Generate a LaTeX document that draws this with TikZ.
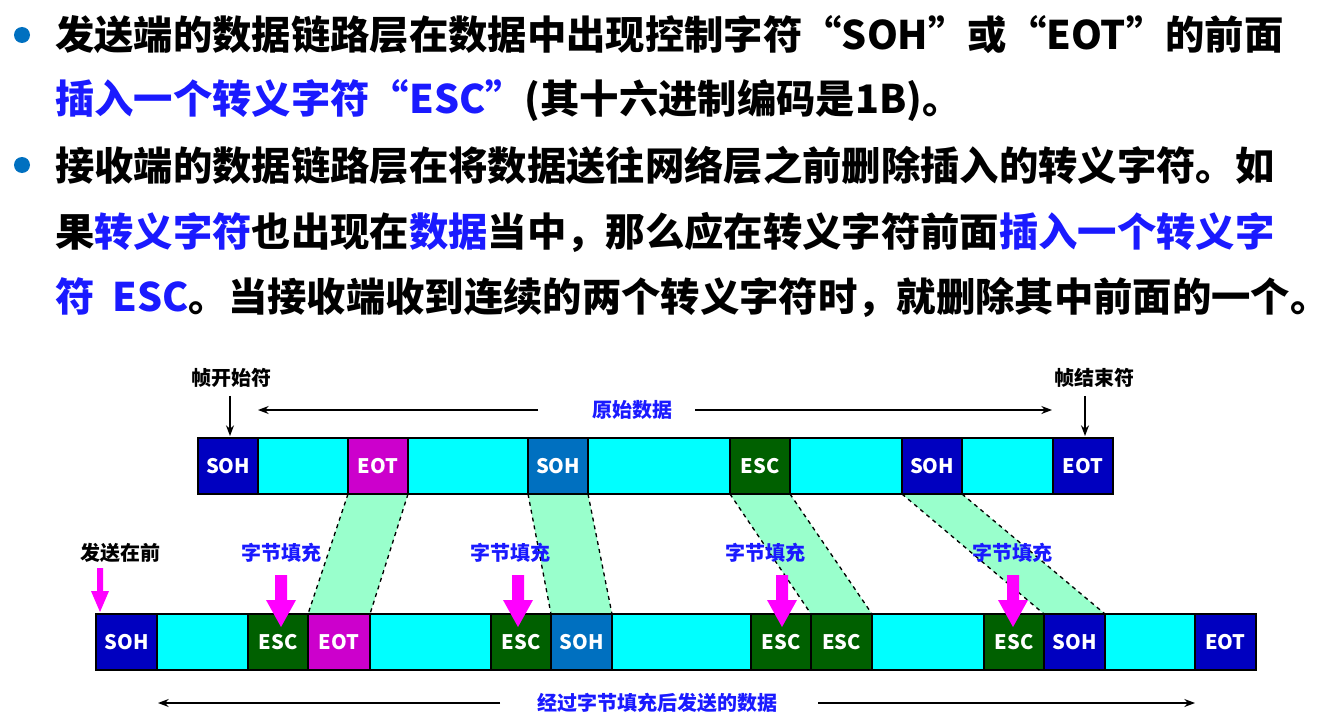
\documentclass[tikz,border=0pt]{standalone}
\usepackage{fontspec}
\setmainfont{Noto Sans CJK SC}
\usetikzlibrary{arrows.meta}
\definecolor{dblue}{HTML}{0000C0}
\definecolor{mblue}{HTML}{0070C0}
\definecolor{mag}{HTML}{CC00CC}
\definecolor{dgreen}{HTML}{006000}
\definecolor{cy}{HTML}{00FFFF}
\definecolor{mint}{HTML}{99FFCC}
\definecolor{pink}{HTML}{FF00FF}
\definecolor{tblue}{HTML}{1A1AFF}
\newcommand{\bx}[6]{\draw[line width=1.2pt,fill=#5] (#2,#4) rectangle (#3,#4+56);
  \node[celltxt] (#1) at ({(#2+#3)/2},#4+28) {#6};}
\newcommand{\fatarrow}[2]{\fill[pink] (#1-6,#2) -- (#1+6,#2) -- (#1+6,#2+25) -- (#1+15,#2+25) -- (#1,#2+52) -- (#1-15,#2+25) -- (#1-6,#2+25) -- cycle;}
\newcommand{\band}[8]{\fill[mint] (#1,#5) -- (#2,#5) -- (#4,#6) -- (#3,#6) -- cycle;
  \draw[dashed,line width=1pt] (#1,#5) -- (#3,#6); \draw[dashed,line width=1pt] (#2,#5) -- (#4,#6);}
\begin{document}
\begin{tikzpicture}[x=0.75pt,y=-0.75pt,
  celltxt/.style={text=white,font=\fontsize{15}{15}\selectfont\bfseries,inner sep=0},
  body/.style={anchor=west,font=\fontsize{29.5}{30}\selectfont\bfseries,inner sep=0},
  lab/.style={font=\fontsize{15}{16}\selectfont\bfseries,inner sep=0},
  blab/.style={lab,text=tblue},
  arr/.style={-{Stealth[length=8pt,width=6pt]},line width=1pt}]
\useasboundingbox[fill=white] (0,0) rectangle (1336,724);
% text
\fill[mblue] (22,35) circle (8);
\fill[mblue] (22,165) circle (8);
\node[body] (l1) at (55,35) {发送端的数据链路层在数据中出现控制字符“SOH”或“EOT”的前面};
\node[body] (l2) at (55,100) {\color{tblue}插入一个转义字符“ESC”\color{black}(其十六进制编码是1B)。};
\node[body] (l3) at (55,165) {接收端的数据链路层在将数据送往网络层之前删除插入的转义字符。如};
\node[body] (l4) at (55,232) {果\textcolor{tblue}{转义字符}也出现在\textcolor{tblue}{数据}当中，那么应在转义字符前面\textcolor{tblue}{插入一个转义字}};
\node[body] (l5) at (55,297) {\textcolor{tblue}{符\ \ ESC}。当接收端收到连续的两个转义字符时，就删除其中前面的一个。};
% bands
\band{348}{408}{308}{370}{494}{614}{}{}
\band{528}{588}{551}{612}{494}{614}{}{}
\band{730}{790}{811}{872}{494}{614}{}{}
\band{902}{962}{1044}{1105}{494}{614}{}{}
% top row
\bx{t1}{198}{258}{438}{dblue}{SOH}
\bx{t2}{258}{348}{438}{cy}{}
\bx{t3}{348}{408}{438}{mag}{EOT}
\bx{t4}{408}{528}{438}{cy}{}
\bx{t5}{528}{588}{438}{mblue}{SOH}
\bx{t6}{588}{730}{438}{cy}{}
\bx{t7}{730}{790}{438}{dgreen}{ESC}
\bx{t8}{790}{902}{438}{cy}{}
\bx{t9}{902}{962}{438}{dblue}{SOH}
\bx{t10}{962}{1053}{438}{cy}{}
\bx{t11}{1053}{1113}{438}{dblue}{EOT}
% bottom row
\bx{b1}{96}{157}{614}{dblue}{SOH}
\bx{b2}{157}{248}{614}{cy}{}
\bx{b3}{248}{308}{614}{dgreen}{ESC}
\bx{b4}{308}{370}{614}{mag}{EOT}
\bx{b5}{370}{491}{614}{cy}{}
\bx{b6}{491}{551}{614}{dgreen}{ESC}
\bx{b7}{551}{612}{614}{mblue}{SOH}
\bx{b8}{612}{751}{614}{cy}{}
\bx{b9}{751}{811}{614}{dgreen}{ESC}
\bx{b10}{811}{872}{614}{dgreen}{ESC}
\bx{b11}{872}{984}{614}{cy}{}
\bx{b12}{984}{1044}{614}{dgreen}{ESC}
\bx{b13}{1044}{1105}{614}{dblue}{SOH}
\bx{b14}{1105}{1195}{614}{cy}{}
\bx{b15}{1195}{1256}{614}{dblue}{EOT}
% labels
\node[lab] (fs) at (231,378) {帧开始符};
\node[lab] (fe) at (1094,378) {帧结束符};
\coordinate (fsa) at (230,436); \coordinate (fea) at (1085,436);
\draw[arr] (fs.south -| fsa) ++(0,8) -- (fsa);
\draw[arr] (fe.south -| fea) ++(0,8) -- (fea);
\node[blab] (od) at (632,410) {原始数据};
\coordinate (odl) at (258,410); \coordinate (odr) at (1052,410);
\draw[arr] (538,410) -- (odl);
\draw[arr] (695,410) -- (odr);
\node[blab] (sd) at (657,703) {经过字节填充后发送的数据};
\coordinate (sdl) at (158,703); \coordinate (sdr) at (1195,703);
\draw[arr] (500,703) -- (sdl);
\draw[arr] (818,703) -- (sdr);
\node[lab] (fq) at (120,553) {发送在前};
\fill[pink] (97,568) -- (103,568) -- (103,591) -- (109,591) -- (100,612) -- (91,591) -- (97,591) -- cycle;
\node[blab] (z1) at (281,553) {字节填充};
\node[blab] (z2) at (510,553) {字节填充};
\node[blab] (z3) at (765,553) {字节填充};
\node[blab] (z4) at (1012,553) {字节填充};
\fatarrow{281}{575}
\fatarrow{518}{575}
\fatarrow{782}{575}
\fatarrow{1013}{575}
\end{tikzpicture}
\end{document}
